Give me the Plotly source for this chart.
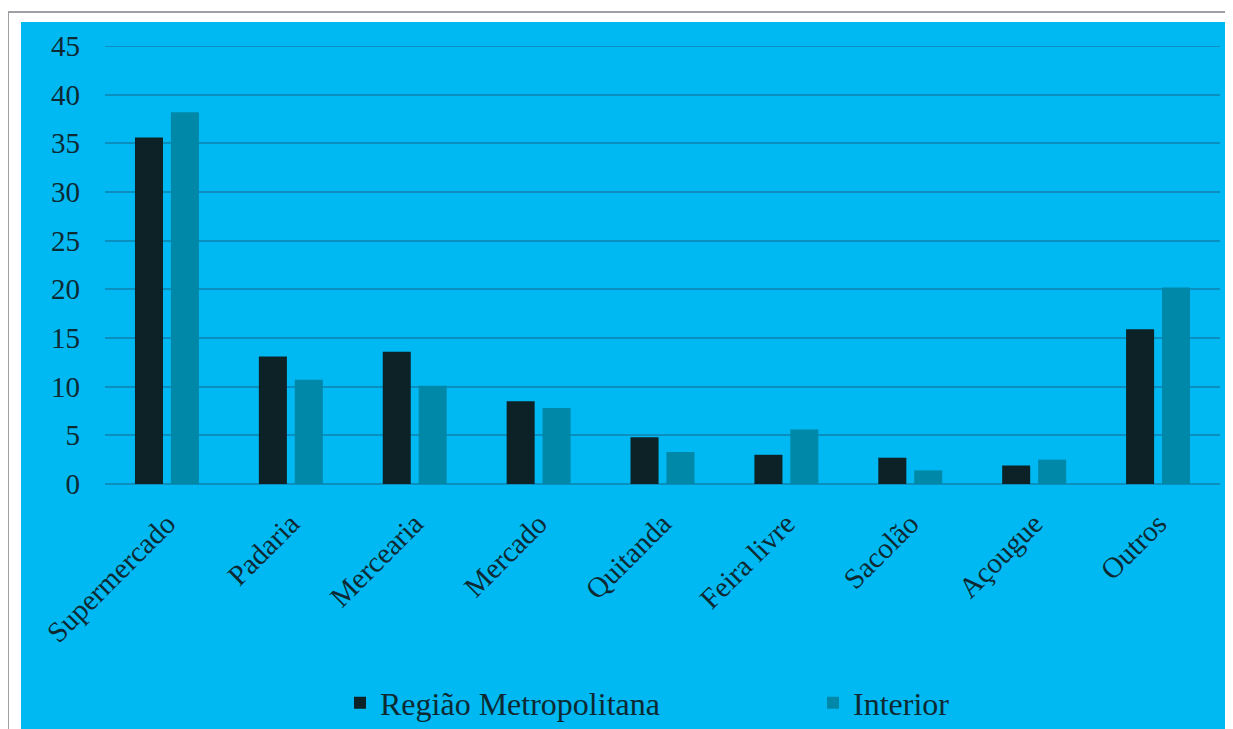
import plotly.graph_objects as go

categories = ["Supermercado", "Padaria", "Mercearia", "Mercado", "Quitanda",
              "Feira livre", "Sacolão", "Açougue", "Outros"]
metro = [35.6, 13.1, 13.6, 8.5, 4.8, 3.0, 2.7, 1.9, 15.9]
interior = [38.2, 10.7, 10.1, 7.8, 3.3, 5.6, 1.4, 2.5, 20.2]
y_ticks = [0, 5, 10, 15, 20, 25, 30, 35, 40, 45]

BLUE = "#00B8F2"
DARK = "#0D2226"
TEAL = "#0088A8"
GRID = "#0A8FBE"
TEXT = "#0D2A33"

# page has an 8px body margin, so figure coords = page coords - 8
OFF = 8
W, H = 1225, 721
L, R, T, B = 97, 13, 38, 245
pw, ph = W - L - R, H - T - B


def px_x(p):
    # page pixel -> paper fraction
    return (p - OFF - L) / pw


def px_y(p):
    return (H - B - (p - OFF)) / ph


fig = go.Figure()
fig.add_trace(go.Bar(x=categories, y=metro, name="Região Metropolitana",
                     marker=dict(color=DARK, line=dict(width=0)),
                     legend="legend"))
fig.add_trace(go.Bar(x=categories, y=interior, name="Interior",
                     marker=dict(color=TEAL, line=dict(width=0)),
                     legend="legend2"))

# grey frame and blue panel
fig.add_shape(type="rect", xref="paper", yref="paper", layer="below",
              x0=px_x(8), x1=px_x(1260), y0=px_y(760), y1=px_y(12),
              line=dict(color="#A0A0A4", width=2), fillcolor="white")
fig.add_shape(type="rect", xref="paper", yref="paper", layer="below",
              x0=px_x(21), x1=px_x(1240), y0=px_y(760), y1=px_y(22),
              line=dict(width=0), fillcolor=BLUE)
# top gridline sits on the plot edge, draw it explicitly
fig.add_shape(type="line", xref="paper", yref="y", layer="below",
              x0=0, x1=1, y0=y_ticks[-1], y1=y_ticks[-1],
              line=dict(color=GRID, width=2))

legend_style = dict(orientation="h", xanchor="left", yanchor="middle",
                    y=px_y(703), itemwidth=30, bgcolor="rgba(0,0,0,0)",
                    font=dict(size=32, color=TEXT))

fig.update_layout(
    width=W, height=H,
    margin=dict(l=L, r=R, t=T, b=B, autoexpand=False),
    paper_bgcolor="white",
    plot_bgcolor=BLUE,
    barmode="group",
    bargap=0.42,
    bargroupgap=0.22,
    font=dict(family="Liberation Serif", size=29, color=TEXT),
    showlegend=True,
    legend=dict(x=px_x(340), **legend_style),
    legend2=dict(x=px_x(813), **legend_style),
)
fig.update_xaxes(tickangle=-45, showgrid=False, showline=False,
                 ticklabelstandoff=16, tickfont=dict(size=29, color=TEXT))
fig.update_yaxes(range=[0, 45], tickvals=y_ticks, showgrid=True,
                 gridcolor=GRID, gridwidth=2, zeroline=True,
                 zerolinecolor=GRID, zerolinewidth=2,
                 ticklabelstandoff=24, tickfont=dict(size=29, color=TEXT))

fig.write_html("out.html")
